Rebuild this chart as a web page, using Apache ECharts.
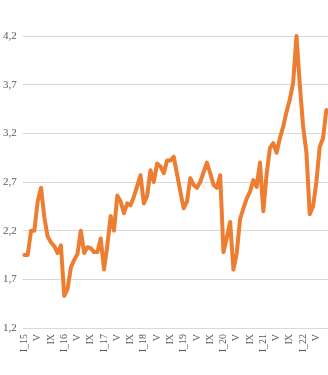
<!DOCTYPE html>
<html>
<head>
<meta charset="utf-8">
<script src="https://cdn.jsdelivr.net/npm/echarts@6/dist/echarts.min.js"></script>
<style>
  html, body { margin: 0; padding: 0; background: #fff; }
  #chart { width: 328px; height: 375px; }
</style>
</head>
<body>
<div id="chart"></div>
<script>
// місяці римськими цифрами, рік додається до січня
const months = ["I", "II", "III", "IV", "V", "VI", "VII", "VIII", "IX", "X", "XI", "XII"];
const years = ["15", "16", "17", "18", "19", "20", "21", "22"];
const lastMonthCount = 8; // 2022: I..VIII

const categories = [];
years.forEach((y, yi) => {
  const n = yi === years.length - 1 ? lastMonthCount : 12;
  for (let m = 0; m < n; m++) {
    categories.push(m === 0 ? months[m] + "_" + y : months[m]);
  }
});

// значення
const values = [
  1.95, 1.95, 2.2, 2.2, 2.5, 2.64, 2.34, 2.14, 2.08, 2.04, 1.97, 2.05,
  1.53, 1.6, 1.82, 1.9, 1.96, 2.2, 1.97, 2.03, 2.02, 1.98, 1.98, 2.12,
  1.8, 2.05, 2.35, 2.2, 2.56, 2.5, 2.38, 2.48, 2.46, 2.55, 2.66, 2.77,
  2.48, 2.56, 2.82, 2.7, 2.89, 2.86, 2.79, 2.92, 2.92, 2.96, 2.78, 2.6,
  2.43, 2.5, 2.74, 2.67, 2.64, 2.7, 2.8, 2.9, 2.79, 2.67, 2.64, 2.77,
  1.98, 2.13, 2.29, 1.8, 1.97, 2.32, 2.43, 2.53, 2.6, 2.72, 2.65, 2.9,
  2.4, 2.78, 3.05, 3.1, 3.0, 3.15, 3.27, 3.42, 3.55, 3.72, 4.2, 3.7,
  3.27, 3.0, 2.37, 2.45, 2.7, 3.06, 3.15, 3.44
];

const yMin = 1.2;
const yMax = 4.2;
const yStep = 0.5;

const myChart = echarts.init(document.getElementById("chart"));

const option = {
  animation: false,
  grid: { left: 21, right: 0, top: 36, bottom: 47 },
  xAxis: {
    type: "category",
    data: categories,
    boundaryGap: true,
    axisLine: { show: false },
    axisTick: { show: false },
    axisLabel: {
      interval: 3,
      rotate: 90,
      margin: 6,
      color: "#595959",
      fontFamily: "Liberation Serif",
      fontSize: 10
    }
  },
  yAxis: {
    type: "value",
    min: yMin,
    max: yMax,
    interval: yStep,
    axisLine: { show: false },
    axisTick: { show: false },
    splitLine: { lineStyle: { color: "#d9d9d9", width: 1 } },
    axisLabel: {
      margin: 6,
      color: "#595959",
      fontFamily: "Liberation Serif",
      fontSize: 11,
      formatter: (v) => v.toFixed(1).replace(".", ",")
    }
  },
  series: [
    {
      type: "line",
      data: values,
      symbol: "none",
      smooth: false,
      lineStyle: { color: "#ED7D31", width: 4, join: "round", cap: "round" }
    }
  ]
};

myChart.setOption(option);
</script>
</body>
</html>
